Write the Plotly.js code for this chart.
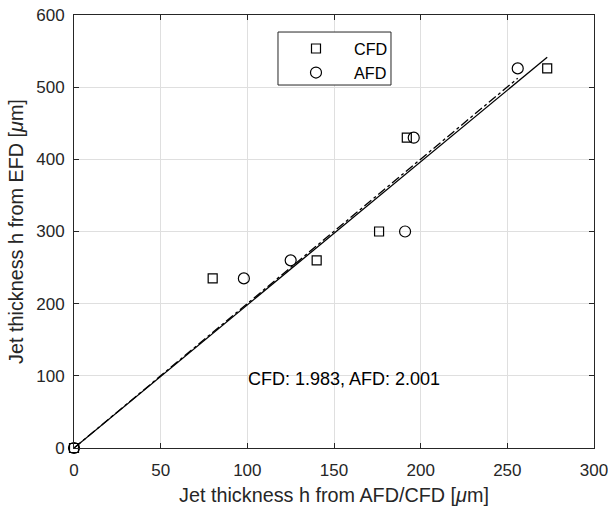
<!DOCTYPE html>
<html>
<head>
<meta charset="utf-8">
<script src="https://cdn.plot.ly/plotly-3.0.1.min.js"></script>
<style>html,body{margin:0;padding:0;background:#fff;}#chart{width:608px;height:511px;}</style>
</head>
<body>
<div id="chart"></div>
<script>
// Data
const cfdX = [0, 80, 140, 176, 192, 273];
const cfdY = [0, 235, 260, 300, 430, 526];
const afdX = [0, 98, 125, 191, 196, 256];
const afdY = [0, 235, 260, 300, 430, 526];
// Fitted lines (end points)
const cfdFitX = [0, 273];
const cfdFitY = [0, 541.4];
const afdFitX = [0, 256];
const afdFitY = [0, 512.3];
const fitLabel = "CFD: 1.983, AFD: 2.001";
const seriesNames = ["CFD", "AFD"];
const xTicks = [0, 50, 100, 150, 200, 250, 300];
const yTicks = [0, 100, 200, 300, 400, 500, 600];

const FONT = '"Liberation Sans", Arial, Helvetica, sans-serif';
const AX = '#262626';

const traces = [
  {x: cfdFitX, y: cfdFitY, mode: 'lines', line: {color: '#000', width: 1.3, dash: 'solid'}, showlegend: false, hoverinfo: 'skip'},
  {x: afdFitX, y: afdFitY, mode: 'lines', line: {color: '#000', width: 1.3, dash: 'dashdot'}, showlegend: false, hoverinfo: 'skip'},
  {x: cfdX, y: cfdY, mode: 'markers', name: seriesNames[0], cliponaxis: false,
   marker: {symbol: 'square-open', size: 9, color: '#000', line: {width: 1.2, color: '#000'}}},
  {x: afdX, y: afdY, mode: 'markers', name: seriesNames[1], cliponaxis: false,
   marker: {symbol: 'circle-open', size: 11, color: '#000', line: {width: 1.2, color: '#000'}}}
];

const axisCommon = {
  showgrid: true, gridcolor: '#dfdfdf', gridwidth: 1,
  zeroline: false, showline: true, linecolor: AX, linewidth: 1,
  mirror: 'ticks', ticks: 'inside', ticklen: 5, tickcolor: AX, tickwidth: 1,
  ticklabeloverflow: 'allow',
  tickfont: {family: FONT, size: 17, color: AX}
};

const layout = {
  width: 608, height: 511,
  margin: {l: 74, r: 14, t: 15, b: 63},
  paper_bgcolor: '#fff', plot_bgcolor: '#fff',
  font: {family: FONT, color: AX},
  xaxis: Object.assign({}, axisCommon, {
    range: [0, 300], tickvals: xTicks, ticktext: xTicks.map(String),
    ticklabelstandoff: 7,
    title: {text: 'Jet thickness h from AFD/CFD [<i>μ</i>m]', font: {family: FONT, size: 19.8, color: AX}, standoff: 8}
  }),
  yaxis: Object.assign({}, axisCommon, {
    range: [0, 600], tickvals: yTicks, ticktext: yTicks.map(String),
    ticklabelstandoff: 5,
    title: {text: 'Jet thickness h from EFD [<i>μ</i>m]', font: {family: FONT, size: 19.8, color: AX}, standoff: 7}
  }),
  showlegend: true,
  legend: {
    x: 0.3923, y: 0.962, xanchor: 'left', yanchor: 'top',
    bgcolor: 'rgba(0,0,0,0)', borderwidth: 0,
    font: {family: FONT, size: 16.2, color: '#000'},
    itemwidth: 66, tracegroupgap: 0
  },
  shapes: [{
    type: 'rect', xref: 'paper', yref: 'paper', layer: 'above',
    x0: 0.3923, x1: 0.6096, y0: 0.8383, y1: 0.9607,
    line: {color: AX, width: 1}, fillcolor: '#fff'
  }],
  annotations: [{
    x: 99.5, y: 96, xref: 'x', yref: 'y', text: fitLabel, showarrow: false,
    xanchor: 'left', yanchor: 'middle', font: {family: FONT, size: 18, color: '#000'}
  }]
};

Plotly.newPlot('chart', traces, layout, {displayModeBar: false, staticPlot: true});
</script>
</body>
</html>
